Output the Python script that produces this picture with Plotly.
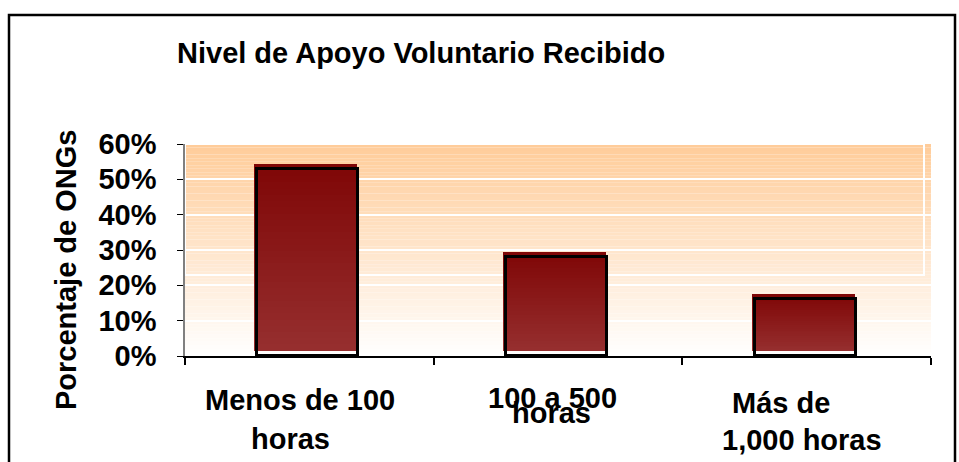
import plotly.graph_objects as go

# ---- data ----
categories = ["Menos de 100 horas", "100 a 500 horas", "Más de 1,000 horas"]
values = [0.54, 0.29, 0.17]
x_label_lines = [["Menos de 100", "horas"], ["100 a 500", "horas"], ["Más de", "1,000 horas"]]
y_tick_vals = [0, 0.1, 0.2, 0.3, 0.4, 0.5, 0.6]
title_text = "Nivel de Apoyo Voluntario Recibido"
y_title = "Porcentaje de ONGs"

# ---- style ----
W, H = 959, 462
ML, MR, MT, MB = 185, 28, 144, 106
PW, PH = W - ML - MR, H - MT - MB
FONT = "Liberation Sans, Arial, sans-serif"
FS = 29
px_y = 0.6 / PH  # data units per pixel (y)
px_x = 3.0 / PW  # category units per pixel (x)

fig = go.Figure()

# red fill bars with a vertical gradient (dark top -> lighter bottom),
# built as stacked slices of each bar
K = 30
bar_top_col = (127, 6, 6)
bar_bot_col = (150, 47, 47)
base0 = 5.3 * px_y
for k in range(K):
    t = (k + 0.5) / K  # 0 at bottom, 1 at top
    col = tuple(round(bar_bot_col[c] + (bar_top_col[c] - bar_bot_col[c]) * t) for c in range(3))
    tops = [v + 1.5 * px_y for v in values]
    seg_h = [(tp - base0) / K for tp in tops]
    fig.add_trace(go.Bar(
        x=categories,
        y=[h * 1.02 if k < K - 1 else h for h in seg_h],
        base=[base0 + h * k for h in seg_h],
        width=0.414, offset=-0.207 - 3.5 * px_x,
        marker=dict(color=f"rgb{col}", line=dict(width=0)),
        hoverinfo="skip", showlegend=False,
    ))
# black outline bars
fig.add_trace(go.Bar(
    x=categories,
    y=[v - 3.5 * px_y for v in values],
    width=0.406, offset=-0.203 - 1.5 * px_x,
    marker=dict(color="rgba(0,0,0,0)", line=dict(color="black", width=3)),
    hoverinfo="skip", showlegend=False,
))

shapes = []
# vertical gradient background (white -> light orange)
N = 60
top = (255, 204, 153)
for i in range(N):
    t = (i + 0.5) / N
    c = tuple(round(255 + (top[k] - 255) * t) for k in range(3))
    shapes.append(dict(type="rect", xref="x domain", yref="y domain",
                       x0=0, x1=1, y0=i / N, y1=(i + 1) / N,
                       fillcolor=f"rgb{c}", line=dict(width=0), layer="below"))
# white frame artifact
shapes.append(dict(type="rect", xref="x domain", yref="y domain",
                   x0=0, x1=(924 - ML) / PW, y0=(356 - 275) / PH, y1=1,
                   fillcolor="rgba(0,0,0,0)", line=dict(color="white", width=2), layer="below"))
# outer chart border
shapes.append(dict(type="rect", xref="paper", yref="paper",
                   x0=(9 - ML) / PW, x1=(955 - ML) / PW,
                   y0=-0.7, y1=(MT + PH - 15) / PH,
                   line=dict(color="black", width=2.5), fillcolor="rgba(0,0,0,0)", layer="above"))

annotations = []
line_xshift = [(-9, -19), (-5.5, -7), (-26, -5)]
line_ypix = [(400, 439), (398, 413), (403, 440)]
for i, lines in enumerate(x_label_lines):
    for j, txt in enumerate(lines):
        annotations.append(dict(
            x=categories[i], y=0, xref="x", yref="paper",
            text=txt, showarrow=False, xanchor="center", yanchor="middle",
            xshift=line_xshift[i][j], yshift=-(line_ypix[i][j] - (MT + PH)),
            font=dict(family=FONT, size=FS, color="black", weight="bold"),
        ))
annotations.append(dict(
    x=(66 - ML) / PW, y=(MT + PH - 270) / PH, xref="paper", yref="paper",
    text=y_title, textangle=-90, showarrow=False, xanchor="center", yanchor="middle",
    font=dict(family=FONT, size=FS, color="black", weight="bold"),
))

fig.update_layout(
    width=W, height=H, autosize=False,
    margin=dict(l=ML, r=MR, t=MT, b=MB, pad=0),
    paper_bgcolor="white", plot_bgcolor="rgba(0,0,0,0)",
    barmode="overlay", bargap=0,
    title=dict(text=title_text, xref="container", yref="container",
               x=177 / W, xanchor="left", y=1 - 52.7 / H, yanchor="middle",
               font=dict(family=FONT, size=FS, color="black", weight="bold")),
    font=dict(family=FONT, size=FS, color="black", weight="bold"),
    shapes=shapes, annotations=annotations,
    xaxis=dict(type="category", range=[-0.5, 2.5], showticklabels=False,
               showline=True, linecolor="black", linewidth=1.5,
               ticks="outside", tickson="boundaries", ticklen=7, tickcolor="black", tickwidth=1.5,
               showgrid=False, zeroline=False, fixedrange=True),
    yaxis=dict(range=[0, 0.6], tickvals=y_tick_vals, tickformat=".0%",
               showline=True, linecolor="#808080", linewidth=1.5,
               ticks="outside", ticklen=6, tickcolor="black", tickwidth=1.2,
               ticklabelstandoff=15,
               tickfont=dict(family=FONT, size=FS, color="black", weight="bold"),
               showgrid=True, gridcolor="white", gridwidth=1.5, zeroline=False, fixedrange=True),
)

fig.write_html("out.html", config={"displayModeBar": False},
               post_script="document.body.style.margin='0';document.body.style.overflow='hidden';")
